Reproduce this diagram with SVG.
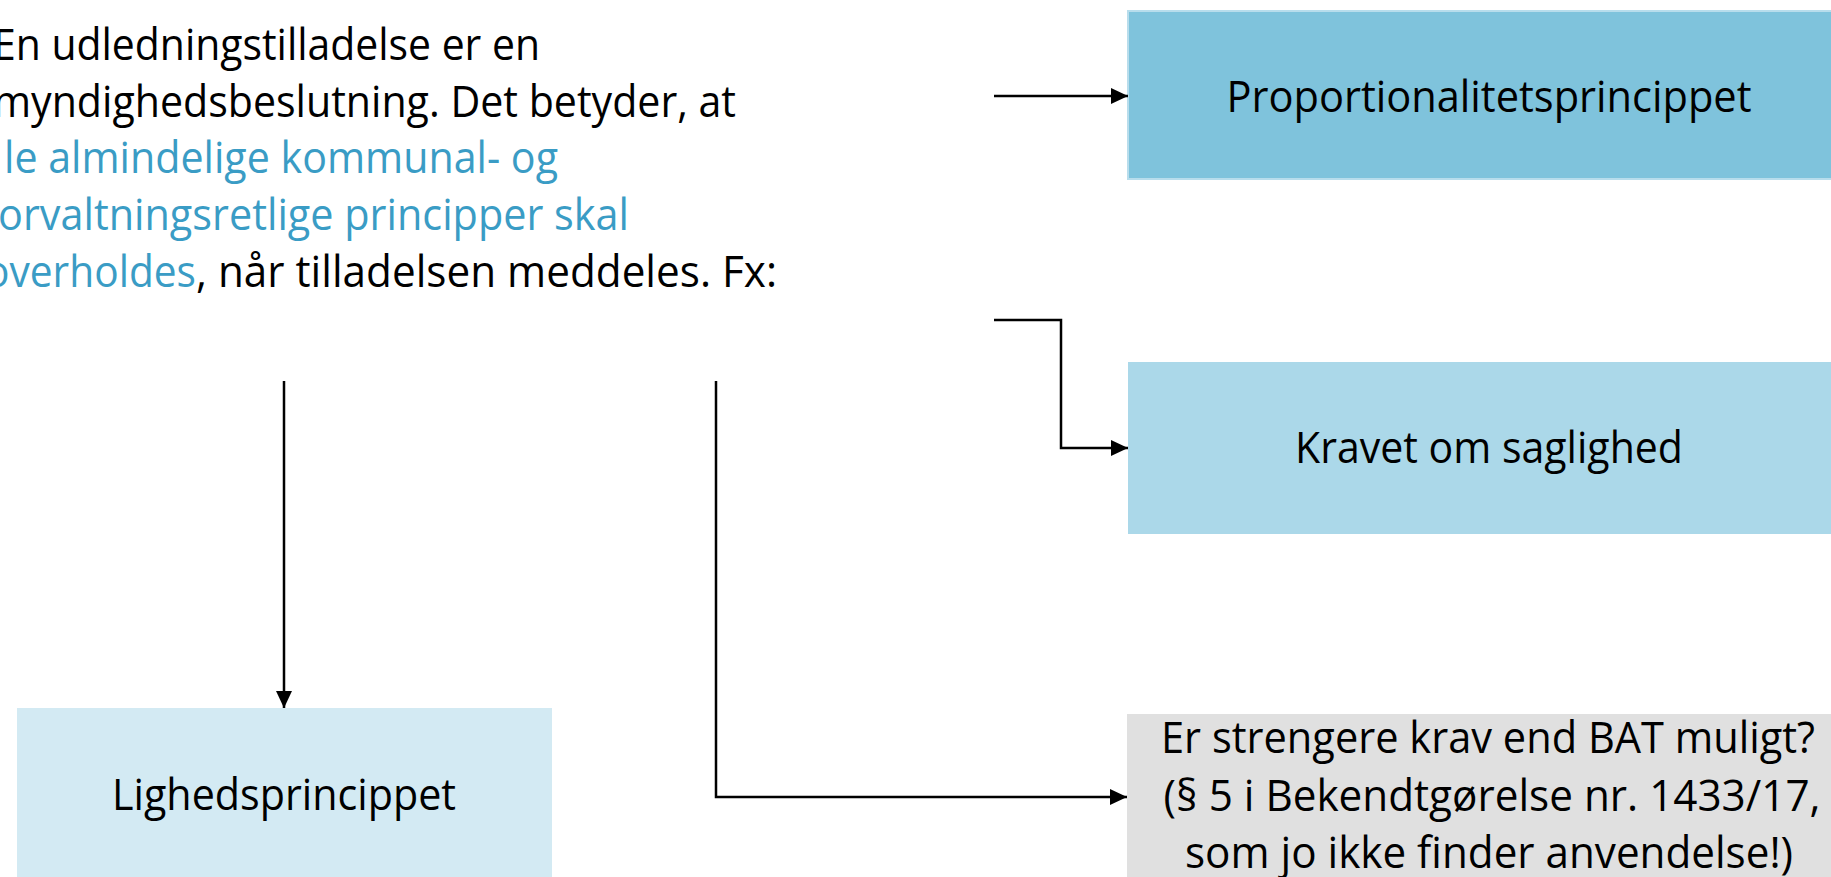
<svg xmlns="http://www.w3.org/2000/svg" width="1831" height="877" viewBox="0 0 1831 877">
<defs>
<style>
.t{font-family:"Open Sans","Noto Sans","Liberation Sans",sans-serif;font-size:44px;fill:#000}
.b{fill:#3A9CC5}
.c{text-anchor:middle}
.ln{fill:none;stroke:#000;stroke-width:2.5}
</style>
<marker id="ah" markerUnits="userSpaceOnUse" markerWidth="17" markerHeight="16" refX="17" refY="8" orient="auto">
<path d="M0,0 L17,8 L0,16 z" fill="#000"/>
</marker>
</defs>
<rect width="1831" height="877" fill="#fff"/>
<g id="intro">
<text class="t" x="-7" y="60" textLength="547" lengthAdjust="spacingAndGlyphs">En udledningstilladelse er en</text>
<text class="t" x="-7" y="117" textLength="743" lengthAdjust="spacingAndGlyphs">myndighedsbeslutning. Det betyder, at</text>
<text class="t b" x="4" y="173" textLength="554" lengthAdjust="spacingAndGlyphs">le almindelige kommunal- og</text>
<text class="t b" x="-2" y="230" textLength="631" lengthAdjust="spacingAndGlyphs">orvaltningsretlige principper skal</text>
<text class="t b" x="-15" y="287" textLength="211" lengthAdjust="spacingAndGlyphs">overholdes</text>
<text class="t" x="196" y="287" textLength="581" lengthAdjust="spacingAndGlyphs">, når tilladelsen meddeles. Fx:</text>
</g>
<g id="proportionalitet">
<rect x="1128" y="11" width="720" height="168" fill="#7FC3DC" stroke="#B8DDEC" stroke-width="2"/>
<text class="t c" x="1489" y="112" textLength="525" lengthAdjust="spacingAndGlyphs">Proportionalitetsprincippet</text>
</g>
<g id="saglighed">
<rect x="1128" y="362" width="720" height="172" fill="#ABD8E9"/>
<text class="t c" x="1489" y="463" textLength="388" lengthAdjust="spacingAndGlyphs">Kravet om saglighed</text>
</g>
<g id="lighed">
<rect x="17" y="708" width="535" height="180" fill="#D3EAF3"/>
<text class="t c" x="284" y="810" textLength="344" lengthAdjust="spacingAndGlyphs">Lighedsprincippet</text>
</g>
<g id="bat">
<rect x="1127" y="714" width="720" height="175" fill="#E0E0E0"/>
<text class="t c" x="1488" y="753" textLength="654" lengthAdjust="spacingAndGlyphs">Er strengere krav end BAT muligt?</text>
<text class="t c" x="1492" y="811" textLength="657" lengthAdjust="spacingAndGlyphs">(§ 5 i Bekendtgørelse nr. 1433/17,</text>
<text class="t c" x="1489" y="868" textLength="608" lengthAdjust="spacingAndGlyphs">som jo ikke finder anvendelse!)</text>
</g>
<g id="connectors">
<path class="ln" d="M994,96 H1128" marker-end="url(#ah)"/>
<path class="ln" d="M994,320 H1061 V448 H1128" marker-end="url(#ah)"/>
<path class="ln" d="M284,381 V708" marker-end="url(#ah)"/>
<path class="ln" d="M716,381 V797 H1127" marker-end="url(#ah)"/>
</g>
</svg>
